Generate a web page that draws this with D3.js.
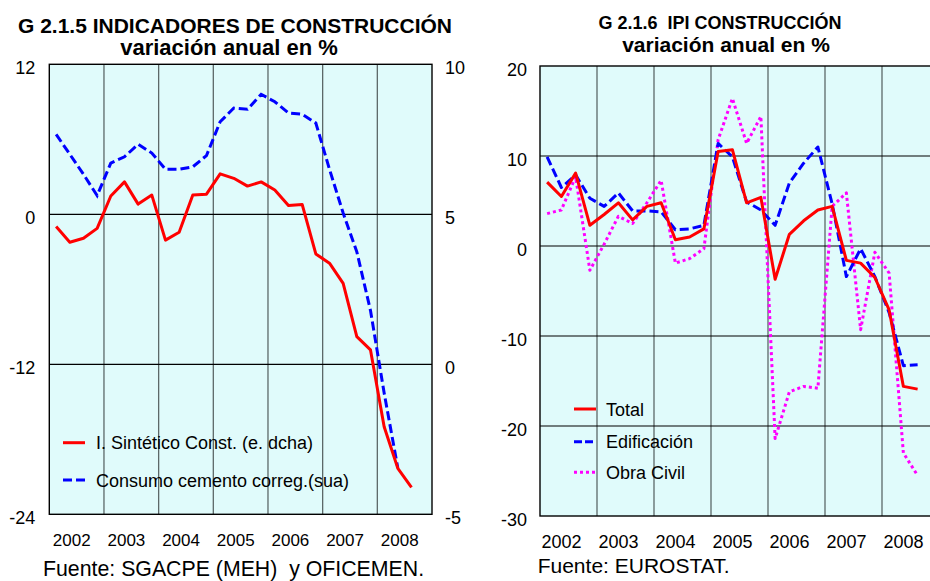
<!DOCTYPE html>
<html><head><meta charset="utf-8">
<script src="https://cdn.jsdelivr.net/npm/d3@7"></script>
<style>
body{margin:0;background:#fff;}
text{font-family:"Liberation Sans",Arial,sans-serif;fill:#000;}
</style></head>
<body><svg id="c" width="930" height="581"></svg>
<script>
// ---------- DATA ----------
const years = [2002, 2003, 2004, 2005, 2006, 2007, 2008];
// G 2.1.5 – quarterly, from 2002 Q1
const sinteticoConst = [4.59, 4.07, 4.2, 4.53, 5.61, 6.08, 5.34, 5.64, 4.14, 4.4, 5.64, 5.67, 6.35, 6.2, 5.94, 6.08, 5.81, 5.29, 5.33, 3.68, 3.37, 2.7, 0.92, 0.48, -2.08, -3.47, -4.1]; // right scale
const consumoCemento = [6.4, 4.8, 3.2, 1.5, 4.1, 4.6, 5.6, 4.9, 3.6, 3.6, 3.8, 4.7, 7.4, 8.5, 8.4, 9.6, 9.0, 8.1, 8.0, 7.3, 3.6, 0.1, -3.0, -7.7, -14.3, -20.3]; // left scale
const leftTicks = [-24, -12, 0, 12];
const rightTicks = [-5, 0, 5, 10];
// G 2.1.6 – quarterly, from 2002 Q1
const ipiTotal = [7.1, 5.5, 8.1, 2.3, 3.5, 4.8, 2.9, 4.4, 4.8, 0.7, 1.0, 1.9, 10.5, 10.7, 4.8, 5.4, -3.7, 1.3, 2.8, 4.0, 4.4, -1.6, -1.9, -3.5, -7.1, -15.6, -15.9];
const ipiEdificacion = [9.9, 6.5, 7.9, 5.3, 4.4, 5.9, 3.9, 3.9, 3.8, 1.8, 1.9, 2.3, 11.4, 9.9, 4.9, 4.0, 2.3, 7.0, 9.2, 11.0, 4.7, -3.4, -0.3, -3.4, -7.4, -13.3, -13.2];
const ipiObraCivil = [3.6, 4.0, 7.7, -2.7, 0.2, 3.3, 2.5, 4.8, 7.3, -1.9, -1.4, -0.3, 11.8, 16.4, 11.4, 14.4, -21.4, -16.2, -15.6, -15.8, 4.4, 5.9, -9.3, -0.7, -3.0, -23.0, -25.5];
const ipiTicks = [-30, -20, -10, 0, 10, 20];

const svg = d3.select("#c");
svg.append("rect").attr("width", 930).attr("height", 581).attr("fill", "#fff");
const BG = "#e0fbfb";
const fmt = d => String(d);
const qx = (x, i) => x(years[0] + (i + 0.5) / 4);

function panel(o) {
  const g = svg.append("g");
  const x = d3.scaleLinear().domain([years[0], years[years.length - 1] + 1]).range([o.x0, o.x1]);
  const y = d3.scaleLinear().domain(o.yDom).range([o.y1, o.y0]);
  g.append("rect").attr("x", o.x0).attr("y", o.y0).attr("width", o.x1 - o.x0).attr("height", o.y1 - o.y0).attr("fill", BG);
  g.selectAll(".vg").data(years.slice(1)).join("line")
    .attr("x1", d => x(d)).attr("x2", d => x(d)).attr("y1", o.y0).attr("y2", o.y1)
    .attr("stroke", "#5c6868").attr("stroke-width", 1.3);
  g.selectAll(".hg").data(o.grid).join("line")
    .attr("x1", o.x0).attr("x2", o.x1).attr("y1", d => y(d)).attr("y2", d => y(d))
    .attr("stroke", "#000").attr("stroke-width", 1.2);
  g.append("rect").attr("x", o.x0).attr("y", o.y0).attr("width", o.x1 - o.x0).attr("height", o.y1 - o.y0)
    .attr("fill", "none").attr("stroke", "#000").attr("stroke-width", 1.4);
  const ay = g.append("g").attr("transform", `translate(${o.x0},0)`)
    .call(d3.axisLeft(y).tickValues(o.ticks).tickSize(0).tickPadding(o.padL).tickFormat(fmt));
  ay.select(".domain").remove();
  ay.selectAll("text").attr("font-size", 18).attr("dy", "0.5em");
  const ax = g.append("g").attr("transform", `translate(0,${o.xLabY})`)
    .call(d3.axisBottom(x).tickValues(years).tickSize(0).tickPadding(0).tickFormat(fmt));
  ax.select(".domain").remove();
  ax.selectAll("text").attr("font-size", o.xFs).attr("text-anchor", "start").attr("dx", o.xDx).attr("dy", 0).attr("y", 0);
  return {g, x, y};
}

// ---------- LEFT PANEL ----------
const L = panel({x0: 49.3, x1: 432, y0: 64.3, y1: 514.3, yDom: [-24, 12], grid: [0, -12], ticks: leftTicks, padL: 14, xLabY: 546, xFs: 17, xDx: 3});
const yR = d3.scaleLinear().domain([-5, 10]).range([514.3, 64.3]);
const axR = L.g.append("g").attr("transform", "translate(432,0)")
  .call(d3.axisRight(yR).tickValues(rightTicks).tickSize(0).tickPadding(13).tickFormat(fmt));
axR.select(".domain").remove();
axR.selectAll("text").attr("font-size", 18).attr("dy", "0.5em");

const lineL = d3.line().x((d, i) => qx(L.x, i)).y(d => L.y(d));
const lineR = d3.line().x((d, i) => qx(L.x, i)).y(d => yR(d));
L.g.append("path").datum(consumoCemento).attr("d", lineL).attr("fill", "none")
  .attr("stroke", "#0000ff").attr("stroke-width", 3).attr("stroke-dasharray", "9,4");
L.g.append("path").datum(sinteticoConst).attr("d", lineR).attr("fill", "none")
  .attr("stroke", "#ff0000").attr("stroke-width", 3).attr("stroke-linejoin", "round");

const legL = [
  {name: "I. Sintético Const. (e. dcha)", color: "#ff0000", dash: null, y: 442.7},
  {name: "Consumo cemento correg.(sua)", color: "#0000ff", dash: "9,4", y: 480}
];
legL.forEach(d => {
  L.g.append("line").attr("x1", 63).attr("x2", 85).attr("y1", d.y).attr("y2", d.y)
    .attr("stroke", d.color).attr("stroke-width", 3).attr("stroke-dasharray", d.dash);
  L.g.append("text").attr("x", 96).attr("y", d.y + 6.5).attr("font-size", 18).text(d.name);
});

svg.append("text").attr("x", 235).attr("y", 33).attr("text-anchor", "middle").attr("font-size", 21).attr("font-weight", "bold")
  .text("G 2.1.5 INDICADORES DE CONSTRUCCIÓN");
svg.append("text").attr("x", 229).attr("y", 55).attr("text-anchor", "middle").attr("font-size", 22).attr("font-weight", "bold")
  .text("variación anual en %");
svg.append("text").attr("x", 43).attr("y", 576).attr("font-size", 21.3).style("white-space", "pre").text("Fuente: SGACPE (MEH)  y OFICEMEN.");

// ---------- RIGHT PANEL ----------
const R = panel({x0: 540, x1: 939, y0: 66, y1: 516, yDom: [-30, 20], grid: [10, 0, -10, -20], ticks: ipiTicks, padL: 13, xLabY: 548, xFs: 18, xDx: 1});
const lineI = d3.line().x((d, i) => qx(R.x, i)).y(d => R.y(d));
const seriesR = [
  {name: "Obra Civil", data: ipiObraCivil, color: "#ff00ff", dash: "3,3"},
  {name: "Edificación", data: ipiEdificacion, color: "#0000ff", dash: "9,4"},
  {name: "Total", data: ipiTotal, color: "#ff0000", dash: null}
];
seriesR.forEach(s => {
  R.g.append("path").datum(s.data).attr("d", lineI).attr("fill", "none")
    .attr("stroke", s.color).attr("stroke-width", 3).attr("stroke-dasharray", s.dash).attr("stroke-linejoin", "round");
});
const legR = [
  {name: "Total", color: "#ff0000", dash: null, y: 409},
  {name: "Edificación", color: "#0000ff", dash: "8,3", y: 441.7},
  {name: "Obra Civil", color: "#ff00ff", dash: "3,3", y: 472.3}
];
legR.forEach(d => {
  R.g.append("line").attr("x1", 574).attr("x2", 596).attr("y1", d.y).attr("y2", d.y)
    .attr("stroke", d.color).attr("stroke-width", 3).attr("stroke-dasharray", d.dash);
  R.g.append("text").attr("x", 606).attr("y", d.y + 6.5).attr("font-size", 18).text(d.name);
});
svg.append("text").attr("x", 720).attr("y", 29).attr("text-anchor", "middle").attr("font-size", 18).attr("font-weight", "bold")
  .style("white-space", "pre").text("G 2.1.6  IPI CONSTRUCCIÓN");
svg.append("text").attr("x", 726).attr("y", 52).attr("text-anchor", "middle").attr("font-size", 21).attr("font-weight", "bold")
  .text("variación anual en %");
svg.append("text").attr("x", 537.7).attr("y", 573).attr("font-size", 21).text("Fuente: EUROSTAT.");
</script></body></html>
